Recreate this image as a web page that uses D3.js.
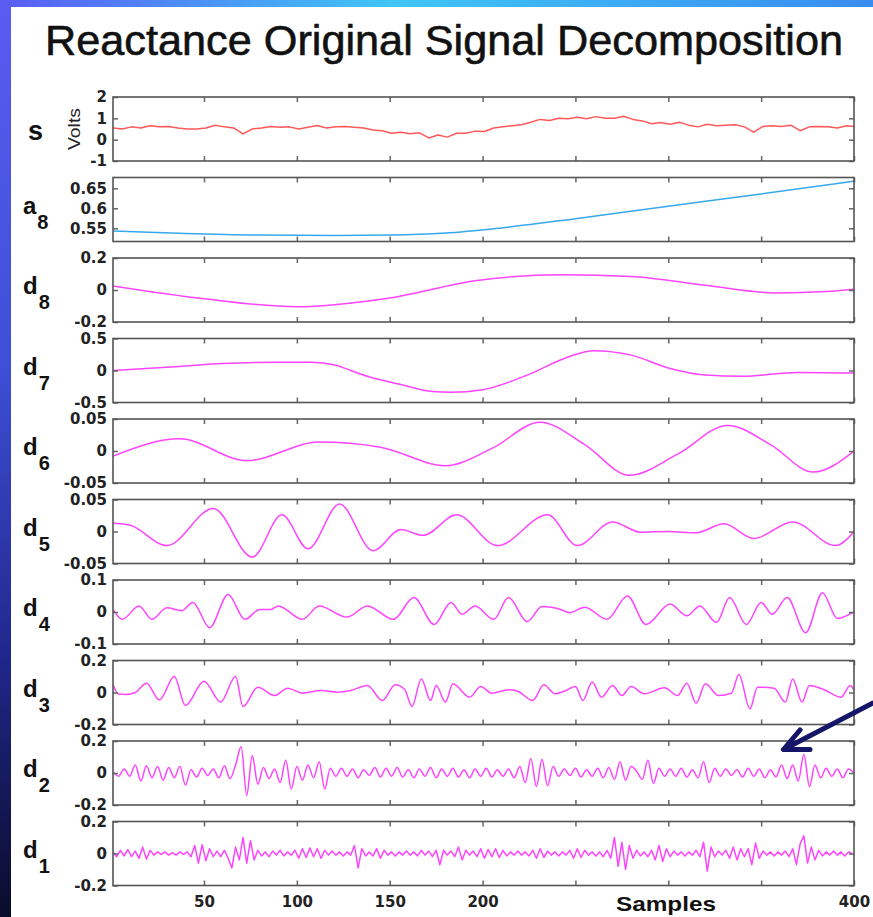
<!DOCTYPE html>
<html>
<head>
<meta charset="utf-8">
<title>Reactance Original Signal Decomposition</title>
<script src="https://cdn.jsdelivr.net/npm/d3@7"></script>
<style>
    body { margin: 0; background: #0a0c28; }
    svg { display: block; }
</style>
</head>
<body>
<script>
    // ---- data ----
    var xTickValues = [50, 100, 150, 200, 250, 300, 350, 400];
    var xTickLabels = [50, 100, 150, 200, 400];

    // original signal s, every 5th sample
    var sSamples = d3.range(1, 400, 5).concat([400]);
    var sValues = [0.55, 0.5, 0.6, 0.55, 0.65, 0.6, 0.62, 0.55, 0.5, 0.5,
                   0.55, 0.68, 0.6, 0.55, 0.27, 0.5, 0.55, 0.62, 0.58, 0.6,
                   0.5, 0.58, 0.66, 0.55, 0.6, 0.62, 0.58, 0.55, 0.45, 0.42,
                   0.3, 0.35, 0.28, 0.32, 0.08, 0.22, 0.12, 0.3, 0.3, 0.4,
                   0.38, 0.55, 0.6, 0.65, 0.7, 0.82, 0.95, 0.9, 1.0, 0.98,
                   1.05, 0.98, 1.08, 1.0, 1.0, 1.1, 0.95, 0.88, 0.75, 0.8,
                   0.72, 0.82, 0.68, 0.6, 0.72, 0.65, 0.68, 0.7, 0.6, 0.35,
                   0.62, 0.65, 0.62, 0.68, 0.42, 0.6, 0.62, 0.6, 0.55, 0.65,
                   0.62];

    // smooth components: [sample, value] at turning points
    var a8Points = [[1, 0.543], [40, 0.537], [80, 0.533], [120, 0.532], [150, 0.533], [180, 0.538],
                    [210, 0.551], [250, 0.574], [300, 0.605], [350, 0.636], [400, 0.668]];
    var d8Points = [[1, 0.025], [50, -0.055], [100, -0.105], [150, -0.05], [197, 0.06], [243, 0.095],
                    [280, 0.085], [320, 0.03], [358, -0.018], [385, -0.01], [400, 0.005]];
    var d7Points = [[1, 0], [30, 0.05], [60, 0.11], [90, 0.13], [108, 0.128], [120, 0.09], [129, 0],
                    [138, -0.09], [156, -0.22], [173, -0.33], [183, -0.34], [200, -0.3], [225, -0.06],
                    [245, 0.2], [260, 0.31], [280, 0.24], [300, 0.04], [320, -0.07], [340, -0.09],
                    [370, -0.03], [400, -0.04]];
    var d6Points = [[1, -0.008], [37, 0.019], [73, -0.015], [112, 0.014], [145, 0.006], [180, -0.023],
                    [205, 0.004], [231, 0.045], [255, 0.01], [279, -0.038], [305, -0.005], [332, 0.04],
                    [355, 0.01], [378, -0.033], [400, 0]];
    var d5Points = [[1, 0.013], [10, 0.01], [30, -0.022], [55, 0.036], [76, -0.04], [92, 0.026],
                    [106, -0.027], [123, 0.043], [141, -0.03], [156, 0.003], [168, -0.006], [186, 0.026],
                    [208, -0.022], [235, 0.026], [251, -0.022], [270, 0.015], [285, -0.001], [300, 0],
                    [315, -0.002], [330, 0.012], [346, -0.011], [367, 0.015], [390, -0.022], [400, 0]];
    var d4Points = [[1, 0.008], [6, -0.023], [15, 0.019], [22, -0.023], [30, 0.013], [38, 0.004],
                    [44, 0.03], [53, -0.049], [63, 0.055], [72, -0.023], [80, 0.008], [86, 0.008],
                    [90, 0.019], [103, -0.023], [112, 0.019], [127, -0.016], [138, 0.019], [152, -0.023],
                    [163, 0.045], [174, -0.039], [183, 0.03], [189, -0.007], [196, 0.019], [206, -0.023],
                    [214, 0.045], [224, -0.03], [232, 0.017], [240, 0.012], [247, -0.002], [255, 0.015],
                    [267, -0.023], [278, 0.05], [288, -0.039], [301, 0.025], [310, -0.012], [317, 0.019],
                    [326, -0.033], [333, 0.045], [342, -0.039], [350, 0.03], [356, -0.007], [364, 0.045],
                    [374, -0.065], [383, 0.06], [391, -0.02], [400, 0]];
    var d3Points = [[1, 0.05], [4, -0.01], [8, -0.0125], [13, 0], [19, 0.058], [26, -0.046], [34, 0.1],
                    [40, -0.081], [50, 0.07], [59, -0.06], [67, 0.1], [71, -0.0875], [79, 0.033],
                    [88, -0.019], [95, 0.027], [103, -0.004], [113, 0.0125], [122, 0.002], [129, 0.0125],
                    [138, 0.044], [146, -0.05], [153, 0.048], [158, 0.02], [162, -0.0875], [167, 0.085],
                    [172, -0.05], [175, 0.044], [180, -0.06], [184, 0.054], [193, -0.029], [199, 0.0375],
                    [205, -0.004], [214, 0.017], [219, 0.008], [227, -0.05], [233, 0.048], [239, -0.008],
                    [244, 0.008], [250, 0.0375], [254, -0.05], [259, 0.065], [264, -0.029], [270, 0.044],
                    [275, -0.019], [280, 0.0375], [287, -0.008], [298, 0.029], [305, -0.019], [310, 0.058],
                    [315, -0.067], [320, 0.054], [327, -0.019], [334, -0.005], [338, 0.1125], [344, -0.102],
                    [348, 0.033], [357, 0.027], [363, -0.06], [367, 0.085], [372, -0.06], [376, 0.044],
                    [384, 0.017], [393, -0.029], [398, 0.044], [400, 0.0125]];

    // d2, every 3rd sample
    var d2Samples = d3.range(1, 400, 3).concat([400]);
    var d2Values = [0.01, -0.02, 0.025, -0.02, 0.05, -0.05, 0.045, -0.03, 0.04, -0.045,
                    0.035, -0.03, 0.04, -0.075, 0.02, -0.025, 0.03, -0.015, 0.025, -0.03,
                    0.045, -0.035, 0.05, 0.165, -0.14, 0.11, -0.07, 0.035, -0.035, 0.025,
                    -0.06, 0.08, -0.1, 0.04, -0.045, 0.05, -0.03, 0.07, -0.1, 0.03,
                    -0.02, 0.03, -0.02, 0.025, -0.03, 0.02, -0.015, 0.035, -0.025, 0.03,
                    -0.02, 0.035, -0.025, 0.02, -0.03, 0.025, -0.02, 0.035, -0.03, 0.025,
                    -0.02, 0.03, -0.025, 0.02, -0.03, 0.025, -0.02, 0.03, -0.025, 0.02,
                    -0.02, 0.025, -0.03, 0.04, -0.06, 0.09, -0.085, 0.085, -0.08, 0.04,
                    -0.02, 0.025, -0.015, 0.03, -0.025, 0.02, -0.02, 0.03, -0.03, 0.035,
                    -0.04, 0.07, -0.045, 0.04, 0.01, -0.04, 0.08, -0.065, 0.03, -0.02,
                    0.025, -0.02, 0.03, -0.025, 0.02, -0.03, 0.07, -0.06, 0.03, -0.02,
                    0.025, -0.015, 0.02, -0.025, 0.03, -0.02, 0.025, -0.03, 0.02, -0.025,
                    0.05, -0.035, 0.05, -0.05, 0.117, -0.085, 0.05, -0.03, 0.03, -0.02,
                    0.025, -0.03, 0.025, 0];

    // d1, every 2nd sample
    var d1Samples = d3.range(1, 400, 2);
    var d1Values = [0.01, -0.02, 0.02, -0.015, 0.025, -0.02, 0.015, -0.03, 0.04, -0.035,
                    0.02, -0.01, 0.01, -0.005, 0.01, -0.01, 0.005, -0.01, 0.01, -0.005,
                    0.01, -0.02, 0.05, -0.06, 0.055, -0.045, 0.03, -0.02, 0.015, -0.02,
                    0.02, -0.03, -0.09, 0.04, -0.04, 0.1, -0.06, 0.08, -0.04, 0.02,
                    -0.015, 0.01, -0.02, 0.015, -0.01, 0.02, -0.015, 0.01, -0.01, 0.02,
                    -0.03, 0.03, -0.025, 0.035, -0.02, 0.03, -0.03, 0.02, -0.01, 0.015,
                    -0.01, 0.01, -0.015, 0.01, -0.01, 0.05, -0.09, 0.03, -0.015, 0.01,
                    -0.015, 0.03, -0.03, 0.02, -0.01, 0.01, -0.015, 0.01, -0.01, 0.015,
                    -0.01, 0.01, -0.015, 0.02, -0.01, 0.015, -0.02, 0.02, -0.07, 0.02,
                    -0.01, 0.015, -0.02, 0.04, -0.04, 0.02, -0.01, 0.015, -0.02, 0.03,
                    -0.03, 0.025, -0.02, 0.03, -0.025, 0.02, -0.015, 0.01, -0.01, 0.015,
                    -0.01, 0.01, -0.015, 0.02, -0.03, 0.03, -0.025, 0.015, -0.01, 0.01,
                    -0.015, 0.01, -0.01, 0.02, -0.03, 0.03, -0.025, 0.02, -0.01, 0.01,
                    -0.015, 0.01, -0.02, 0.02, -0.03, 0.1, -0.08, 0.07, -0.1, 0.05,
                    -0.03, 0.02, -0.015, 0.01, -0.02, 0.02, -0.04, 0.05, -0.05, 0.03,
                    -0.02, 0.015, -0.01, 0.01, -0.015, 0.01, -0.01, 0.02, -0.02, 0.07,
                    -0.11, 0.04, -0.02, 0.015, -0.01, 0.02, -0.03, 0.04, -0.04, 0.03,
                    -0.02, 0.03, -0.07, 0.065, -0.03, 0.015, -0.01, 0.01, -0.015, 0.01,
                    -0.01, 0.015, -0.02, 0.03, -0.07, 0.06, 0.11, -0.06, 0.04, -0.04,
                    0.02, -0.015, 0.01, -0.01, 0.015, -0.01, 0.01, -0.015, 0.01, 0];

    function zip(xs, ys) {
        return xs.map(function(x, i) { return [x, ys[i]]; });
    }

    // one entry per stacked axes, top to bottom
    var panels = [
        {name: 's', sub: '', domain: [-1, 2], ticks: [-1, 0, 1, 2], color: '#ff5858',
         data: zip(sSamples, sValues), curve: d3.curveLinear},
        {name: 'a', sub: '8', domain: [0.517, 0.677], ticks: [0.55, 0.6, 0.65], color: '#35a9ee',
         data: a8Points, curve: d3.curveMonotoneX},
        {name: 'd', sub: '8', domain: [-0.2, 0.2], ticks: [-0.2, 0, 0.2], color: '#ff44ff',
         data: d8Points, curve: d3.curveMonotoneX},
        {name: 'd', sub: '7', domain: [-0.5, 0.5], ticks: [-0.5, 0, 0.5], color: '#ff44ff',
         data: d7Points, curve: d3.curveMonotoneX},
        {name: 'd', sub: '6', domain: [-0.05, 0.05], ticks: [-0.05, 0, 0.05], color: '#ff44ff',
         data: d6Points, curve: d3.curveMonotoneX},
        {name: 'd', sub: '5', domain: [-0.05, 0.05], ticks: [-0.05, 0, 0.05], color: '#ff44ff',
         data: d5Points, curve: d3.curveMonotoneX},
        {name: 'd', sub: '4', domain: [-0.1, 0.1], ticks: [-0.1, 0, 0.1], color: '#ff44ff',
         data: d4Points, curve: d3.curveMonotoneX},
        {name: 'd', sub: '3', domain: [-0.2, 0.2], ticks: [-0.2, 0, 0.2], color: '#ff44ff',
         data: d3Points, curve: d3.curveMonotoneX},
        {name: 'd', sub: '2', domain: [-0.2, 0.2], ticks: [-0.2, 0, 0.2], color: '#ff44ff',
         data: zip(d2Samples, d2Values), curve: d3.curveMonotoneX},
        {name: 'd', sub: '1', domain: [-0.2, 0.2], ticks: [-0.2, 0, 0.2], color: '#ff44ff',
         data: zip(d1Samples, d1Values), curve: d3.curveLinear}
    ];

    // ---- layout ----
    var width = 873, height = 917;
    var plotLeft = 113, plotRight = 854;
    var firstTop = 97, panelStep = 80.5, panelH = 64;
    var tickFont = '"DejaVu Sans", sans-serif';
    var textFont = '"Liberation Sans", Arial, sans-serif';

    var svg = d3.select('body').append('svg')
                .attr('width', width)
                .attr('height', height);

    var defs = svg.append('defs');
    var sideGrad = defs.append('linearGradient').attr('id', 'sideGrad')
                    .attr('x1', 0).attr('y1', 0).attr('x2', 0).attr('y2', 1);
    sideGrad.append('stop').attr('offset', '0%').attr('stop-color', '#5a5cf2');
    sideGrad.append('stop').attr('offset', '40%').attr('stop-color', '#3d4fd6');
    sideGrad.append('stop').attr('offset', '72%').attr('stop-color', '#20268a');
    sideGrad.append('stop').attr('offset', '100%').attr('stop-color', '#0a0c2a');
    var topGrad = defs.append('linearGradient').attr('id', 'topGrad')
                    .attr('x1', 0).attr('y1', 0).attr('x2', 1).attr('y2', 0);
    topGrad.append('stop').attr('offset', '0%').attr('stop-color', '#5a5cf2');
    topGrad.append('stop').attr('offset', '45%').attr('stop-color', '#3fc6fa');
    topGrad.append('stop').attr('offset', '100%').attr('stop-color', '#3a8cf0');

    // slide background and white picture area
    svg.append('rect').attr('width', width).attr('height', height).attr('fill', 'url(#sideGrad)');
    svg.append('rect').attr('width', width).attr('height', 8).attr('fill', 'url(#topGrad)');
    svg.append('rect').attr('x', 11).attr('y', 7)
        .attr('width', width - 11).attr('height', height - 7).attr('fill', '#fff');

    svg.append('text')
        .attr('x', 444).attr('y', 55)
        .attr('text-anchor', 'middle')
        .attr('textLength', 798).attr('lengthAdjust', 'spacingAndGlyphs')
        .style('font-family', textFont).style('font-size', '42px')
        .style('fill', '#111').style('stroke', '#111').style('stroke-width', 0.6)
        .text('Reactance Original Signal Decomposition');

    var x = d3.scaleLinear().domain([1, 400]).range([0, plotRight - plotLeft]);
    var w = plotRight - plotLeft;

    svg.append('clipPath').attr('id', 'plotClip')
        .append('rect').attr('width', w).attr('height', panelH);

    panels.forEach(function(p, i) {
        var top = firstTop + i * panelStep;
        var y = d3.scaleLinear().domain(p.domain).range([panelH, 0]);
        var g = svg.append('g').attr('transform', 'translate(' + plotLeft + ',' + top + ')');

        var line = d3.line()
                    .x(function(d) { return x(d[0]); })
                    .y(function(d) { return y(d[1]); })
                    .curve(p.curve);

        g.append('path')
            .datum(p.data)
            .attr('clip-path', 'url(#plotClip)')
            .attr('d', line)
            .attr('fill', 'none')
            .attr('stroke', p.color)
            .attr('stroke-width', 1.5)
            .attr('stroke-linejoin', 'round');

        // inward ticks on all four sides
        var left = g.append('g').call(d3.axisLeft(y).tickValues(p.ticks).tickSize(-5).tickPadding(6)
                        .tickFormat(function(d) { return String(d); }));
        left.selectAll('text')
            .style('font-family', tickFont).style('font-size', '15px')
            .style('font-weight', 'bold').style('fill', '#222');
        g.append('g').attr('transform', 'translate(' + w + ',0)')
            .call(d3.axisRight(y).tickValues(p.ticks).tickSize(-5).tickFormat(''));
        g.append('g')
            .call(d3.axisTop(x).tickValues(xTickValues).tickSize(-5).tickFormat(''));
        g.append('g').attr('transform', 'translate(0,' + panelH + ')')
            .call(d3.axisBottom(x).tickValues(xTickValues).tickSize(-5).tickFormat(''));
        g.selectAll('.domain').remove();
        g.selectAll('.tick line').attr('stroke', '#666').attr('stroke-width', 1.5);

        g.append('rect')
            .attr('width', w).attr('height', panelH)
            .attr('fill', 'none')
            .attr('stroke', '#555')
            .attr('stroke-width', 1.6);

        // panel name with subscript
        var label = svg.append('text')
                    .attr('x', p.sub ? 23 : 28)
                    .attr('y', p.sub ? top + 36 : top + 43)
                    .style('font-family', textFont).style('font-weight', 'bold')
                    .style('font-size', p.sub ? '24px' : '27px')
                    .style('fill', '#111');
        label.append('tspan').text(p.name);
        if (p.sub) {
            label.append('tspan').attr('dx', 1).attr('dy', 15)
                .style('font-size', '20px').text(p.sub);
        }
    });

    // units of the first panel
    svg.append('text')
        .attr('transform', 'translate(80,129) rotate(-90)')
        .attr('text-anchor', 'middle')
        .attr('textLength', 42).attr('lengthAdjust', 'spacingAndGlyphs')
        .style('font-family', textFont).style('font-size', '17px')
        .style('fill', '#222')
        .text('Volts');

    // sample numbers under the last panel
    var bottomAxis = svg.append('g')
                    .attr('transform', 'translate(' + plotLeft + ',' + (firstTop + 9 * panelStep + panelH) + ')')
                    .call(d3.axisBottom(x).tickValues(xTickLabels).tickSize(0).tickPadding(11)
                        .tickFormat(function(d) { return String(d); }));
    bottomAxis.select('.domain').remove();
    bottomAxis.selectAll('text')
        .style('font-family', tickFont).style('font-size', '15px')
        .style('font-weight', 'bold').style('fill', '#222');

    svg.append('text')
        .attr('x', 666).attr('y', 911)
        .attr('text-anchor', 'middle')
        .attr('textLength', 100).attr('lengthAdjust', 'spacingAndGlyphs')
        .style('font-family', textFont).style('font-weight', 'bold').style('font-size', '21px')
        .style('fill', '#111')
        .text('Samples');

    // annotation arrow pointing at d2
    var arrowTail = [873, 703], arrowTip = [783.5, 749.5];
    var arrowArms = [[800, 730], [810, 749.5]];
    svg.append('path')
        .attr('d', 'M' + arrowTail + 'L' + arrowTip + 'M' + arrowArms[0] + 'L' + arrowTip + 'L' + arrowArms[1])
        .attr('fill', 'none')
        .attr('stroke', '#161668')
        .attr('stroke-width', 5)
        .attr('stroke-linecap', 'round')
        .attr('stroke-linejoin', 'round');
</script>
</body>
</html>
